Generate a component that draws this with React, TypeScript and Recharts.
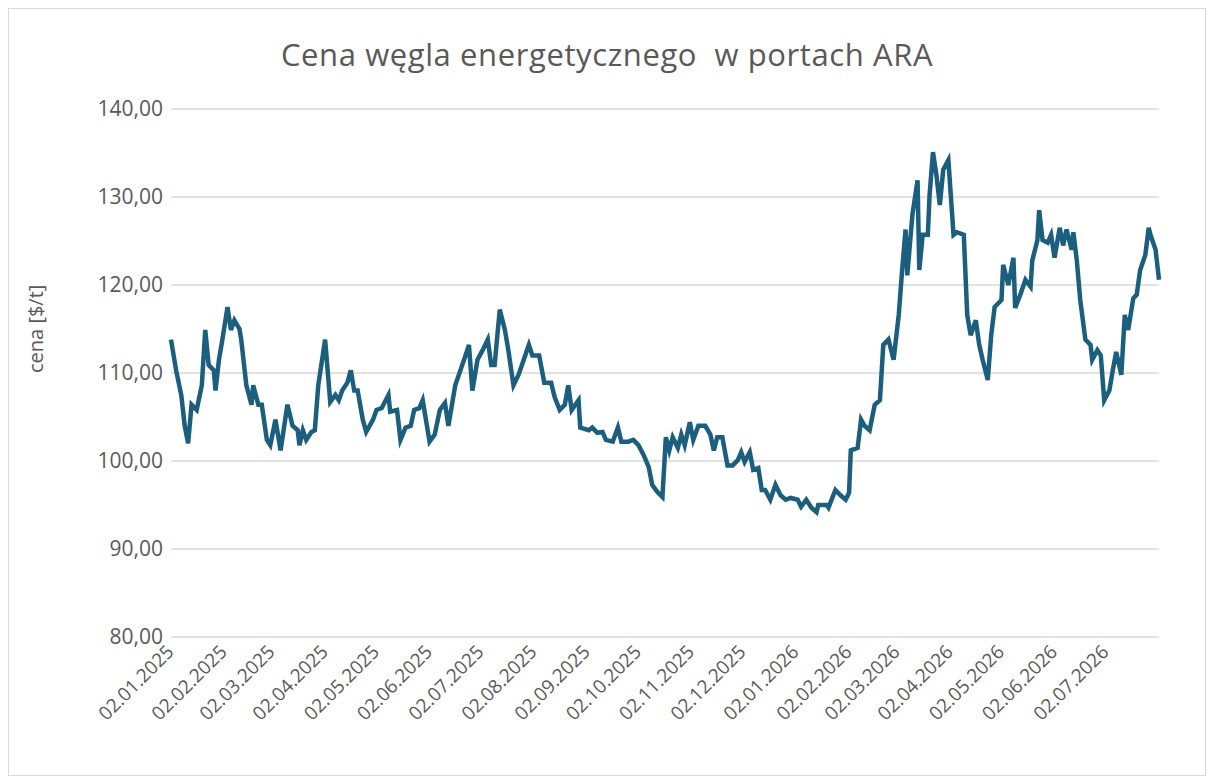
import { LineChart, Line, XAxis, YAxis, CartesianGrid } from "recharts";

// day offsets from 02.01.2025
const days = [
  0, 3, 6, 8, 10, 12, 15, 18, 20, 22, 25, 26, 28, 30, 33, 35, 37, 40, 41, 44, 47, 48, 51, 53, 56, 58, 61, 64, 68, 71,
  74, 75, 77, 79, 82, 84, 86, 90, 93, 96, 98, 100, 103, 105, 107, 109, 112, 114, 118, 120, 123, 127, 128, 132, 134, 137,
  140, 142, 145, 147, 151, 154, 157, 160, 162, 166, 169, 172, 174, 176, 179, 182, 185, 187, 189, 192, 195, 197, 200, 203,
  206, 209, 211, 215, 218, 222, 224, 227, 230, 232, 234, 238, 239, 244, 246, 249, 252, 254, 258, 261, 263, 267, 270, 273,
  276, 279, 281, 284, 287, 289, 291, 293, 296, 298, 300, 303, 305, 308, 312, 315, 317, 319, 322, 325, 328, 331, 333, 335,
  338, 340, 343, 345, 347, 350, 353, 356, 359, 362, 366, 368, 371, 374, 377, 378, 383, 384, 388, 391, 394, 396, 397, 401,
  403, 405, 408, 411, 414, 416, 419, 422, 425, 427, 429, 430, 433, 436, 437, 439, 442, 443, 445, 447, 449, 451, 454, 457,
  459, 463, 465, 467, 470, 472, 474, 477, 479, 481, 485, 486, 489, 492, 493, 496, 499, 502, 503, 506, 507, 509, 512, 514,
  516, 519, 521, 523, 526, 527, 529, 531, 534, 537, 538, 541, 543, 545, 548, 550, 552, 555, 557, 559, 562, 564, 566, 569,
  571, 572, 575, 577,
];

const prices = [
  113.8, 110.3, 107.5, 104, 102, 106.4, 105.8, 108.6, 114.9, 110.9, 110.3, 108, 111.5, 113.8, 117.5, 114.9, 116, 115, 113.8,
  108.6, 106.4, 108.6, 106.4, 106.4, 102.4, 101.8, 104.7, 101.2, 106.4, 104, 103.5, 101.8, 103.5, 102.4, 103.3, 103.5,
  108.6, 113.8, 106.7, 107.5, 106.9, 108, 108.9, 110.3, 108, 108, 104.7, 103.3, 104.7, 105.8, 106, 107.5, 105.6, 105.8,
  102.4, 103.8, 104, 105.8, 106, 106.9, 102.2, 103, 105.8, 106.6, 104, 108.6, 110.3, 112, 113.2, 108, 111.5, 112.6, 113.8,
  110.9, 110.9, 117.2, 114.9, 112.6, 108.6, 109.8, 111.5, 113.2, 112, 112, 108.9, 108.9, 107.3, 105.8, 106.4, 108.6,
  105.8, 106.9, 103.8, 103.5, 103.8, 103.2, 103.3, 102.4, 102.2, 103.8, 102.2, 102.2, 102.4, 101.8, 100.7, 99.3, 97.3,
  96.5, 95.9, 102.7, 101.2, 102.7, 101.5, 103, 101.8, 104.4, 102.4, 104, 104, 103, 101.2, 102.7, 102.7, 99.5, 99.5, 100.1,
  101, 99.9, 101, 99, 99.2, 96.7, 96.7, 95.6, 97.3, 96.1, 95.6, 95.8, 95.6, 94.8, 95.6, 94.7, 94.2, 95, 95, 94.7, 96.7,
  96.1, 95.6, 96.4, 101.2, 101.5, 104.7, 104, 103.5, 106.4, 106.9, 113.2, 113.8, 111.5, 116.6, 121.7, 126.3, 121.1, 128,
  131.9, 121.7, 125.7, 125.7, 130.2, 135.1, 132.5, 129.1, 133.1, 134.2, 125.7, 126, 125.7, 116.6, 114.3, 116, 113.2,
  111.5, 109.2, 114.3, 117.5, 118.3, 122.3, 120, 123.1, 117.4, 118.9, 120.6, 119.8, 122.8, 125.1, 128.5, 125.1, 124.8,
  125.7, 123.1, 126.5, 124.5, 126.3, 124, 126, 122.8, 118.3, 113.8, 113.2, 111.5, 112.6, 112, 106.9, 108, 110.3, 112.4,
  109.8, 116.6, 114.9, 118.5, 118.9, 121.7, 123.4, 126.5, 125.7, 124, 120.6,
];

const tickLabels = [
  "02.01.2025", "02.02.2025", "02.03.2025", "02.04.2025", "02.05.2025", "02.06.2025", "02.07.2025", "02.08.2025",
  "02.09.2025", "02.10.2025", "02.11.2025", "02.12.2025", "02.01.2026", "02.02.2026", "02.03.2026", "02.04.2026",
  "02.05.2026", "02.06.2026", "02.07.2026",
];

const yTicks = [80, 90, 100, 110, 120, 130, 140];

const toDay = (s: string) => {
  const [d, m, y] = s.split(".").map(Number);
  return Math.round((Date.UTC(y, m - 1, d) - Date.UTC(2025, 0, 2)) / 86400000);
};
const xTicks = tickLabels.map(toDay);
const labelByDay: Record<number, string> = {};
tickLabels.forEach((l, i) => (labelByDay[xTicks[i]] = l));

const data = days.map((d, i) => ({ day: d, price: prices[i] }));

const GRAY = "#595959";
const FONT = "Open Sans, sans-serif";

function RotTick({ x, y, payload }: any) {
  return (
    <text x={x + 4} y={y + 8} transform={`rotate(-45 ${x + 4} ${y + 8})`} textAnchor="end" fill={GRAY} fontSize={19}
      fontFamily={FONT}>
      {labelByDay[payload.value]}
    </text>
  );
}

export default function App() {
  return (
    <div style={{ width: 1198, height: 768, border: "1px solid #d9d9d9", boxSizing: "border-box", position: "relative", background: "#fff" }}>
      <div style={{ position: "absolute", top: 24, width: "100%", textAlign: "center", fontSize: 31, letterSpacing: 0.6, color: GRAY, fontFamily: FONT }}>
        Cena węgla energetycznego&nbsp; w portach ARA
      </div>
      <LineChart width={1196} height={766} data={data} margin={{ top: 100, right: 46, bottom: 8, left: 0 }}>
        <CartesianGrid vertical={false} stroke="#d9d9d9" strokeWidth={1.5} />
        <XAxis dataKey="day" type="number" domain={[0, 577]} ticks={xTicks} interval={0} tick={<RotTick />}
          axisLine={false} tickLine={false} height={130} />
        <YAxis domain={[80, 140]} ticks={yTicks} width={162} axisLine={false} tickLine={false}
          tickFormatter={(v: number) => v.toFixed(2).replace(".", ",")}
          tick={{ fill: GRAY, fontSize: 21, fontFamily: FONT }}
          label={{ value: "cena [$/t]", angle: -90, position: "insideLeft", dx: 22, fill: GRAY, fontSize: 20, fontFamily: FONT }} />
        <Line dataKey="price" stroke="#1b5e7e" strokeWidth={4.5} dot={false} isAnimationActive={false} type="linear" />
      </LineChart>
    </div>
  );
}
